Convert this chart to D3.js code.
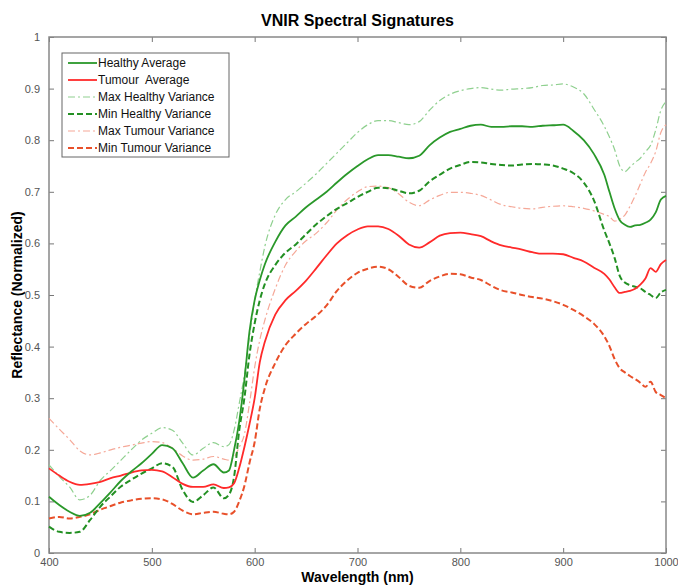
<!DOCTYPE html>
<html>
<head>
<meta charset="utf-8">
<script src="https://cdn.jsdelivr.net/npm/d3@7"></script>
<style>
  body { margin: 0; background: #fff; }
  svg { font-family: "Liberation Sans", Arial, sans-serif; }
</style>
</head>
<body>
<svg id="chart" width="678" height="585"></svg>
<script>
// wavelength grid (nm)
var wavelengths = [400,410,420,430,440,450,460,470,480,490,500,510,520,530,540,550,560,570,575,580,585,590,595,600,605,610,620,630,640,650,660,670,680,690,700,710,720,730,740,750,760,770,780,790,800,810,820,830,840,850,860,870,880,890,900,910,920,930,940,945,950,955,960,965,970,975,980,985,990,995,1000];

var healthyAvg = [.109,.093,.080,.072,.078,.097,.118,.140,.158,.174,.192,.209,.203,.174,.146,.160,.172,.156,.160,.200,.255,.335,.430,.490,.529,.560,.603,.635,.652,.670,.685,.700,.718,.735,.750,.763,.771,.771,.768,.765,.770,.790,.805,.816,.822,.828,.830,.826,.826,.827,.827,.826,.828,.829,.830,.818,.800,.773,.733,.700,.668,.645,.636,.632,.635,.636,.640,.646,.660,.685,.692];
var tumourAvg = [.164,.150,.138,.132,.134,.138,.145,.150,.156,.160,.161,.158,.147,.134,.128,.128,.133,.126,.127,.135,.165,.205,.250,.300,.370,.410,.462,.490,.508,.528,.552,.577,.600,.616,.627,.633,.633,.628,.615,.598,.592,.602,.615,.620,.621,.618,.614,.604,.596,.592,.588,.583,.580,.580,.579,.572,.565,.553,.541,.530,.515,.504,.506,.508,.512,.520,.532,.552,.545,.560,.568];
var healthyMax = [.171,.148,.128,.103,.112,.141,.160,.180,.200,.219,.232,.243,.238,.213,.190,.203,.214,.206,.210,.238,.290,.345,.420,.490,.545,.595,.655,.685,.700,.717,.735,.755,.775,.795,.815,.830,.838,.838,.834,.830,.836,.858,.877,.889,.896,.900,.902,.899,.897,.899,.900,.902,.906,.907,.909,.903,.890,.860,.827,.806,.782,.750,.739,.748,.757,.765,.778,.790,.820,.858,.875];
var healthyMin = [.051,.041,.039,.041,.064,.090,.110,.129,.142,.154,.164,.174,.167,.122,.099,.112,.127,.106,.113,.148,.238,.300,.385,.445,.490,.522,.558,.582,.598,.618,.637,.653,.667,.678,.690,.700,.708,.707,.702,.697,.702,.720,.733,.745,.752,.758,.757,.754,.752,.751,.753,.754,.753,.751,.745,.736,.718,.683,.625,.600,.572,.537,.524,.519,.516,.513,.506,.500,.494,.505,.510];
var tumourMax = [.261,.240,.220,.198,.190,.194,.200,.205,.209,.213,.216,.214,.203,.188,.180,.182,.187,.182,.180,.186,.205,.230,.290,.360,.413,.452,.512,.558,.585,.605,.620,.640,.665,.685,.700,.710,.711,.708,.696,.680,.673,.684,.693,.699,.699,.697,.693,.684,.675,.671,.668,.667,.670,.672,.673,.671,.668,.663,.656,.652,.643,.647,.655,.672,.692,.715,.738,.755,.778,.815,.830];
var tumourMin = [.067,.070,.067,.070,.075,.084,.091,.098,.102,.105,.106,.104,.095,.082,.075,.078,.080,.076,.075,.080,.100,.130,.175,.215,.280,.320,.368,.403,.425,.444,.460,.480,.508,.528,.543,.551,.555,.550,.535,.518,.514,.527,.536,.541,.540,.534,.529,.518,.509,.505,.500,.496,.493,.488,.481,.471,.459,.444,.420,.401,.376,.358,.350,.343,.337,.330,.322,.332,.312,.306,.300];

var xTicks = [400,500,600,700,800,900,1000];
var yTicks = [0,0.1,0.2,0.3,0.4,0.5,0.6,0.7,0.8,0.9,1];

var seriesNames = ['Healthy Average','Tumour  Average','Max Healthy Variance','Min Healthy Variance','Max Tumour Variance','Min Tumour Variance'];

// series styles (colour, width, dash)
var seriesStyle = [
    {color: '#2a982a', width: 1.8, dash: null},
    {color: '#ff2a2a', width: 1.8, dash: null},
    {color: '#8fd08f', width: 1.2, dash: '7,3,2,3'},
    {color: '#239023', width: 2, dash: '6,3'},
    {color: '#f5a898', width: 1.2, dash: '7,3,2,3'},
    {color: '#e8502a', width: 2, dash: '6,3'}
];
var seriesValues = [healthyAvg, tumourAvg, healthyMax, healthyMin, tumourMax, tumourMin];

var svg = d3.select('#chart');
var padding = {t: 37, r: 12, b: 32, l: 49};
var chartWidth = 678 - padding.l - padding.r;
var chartHeight = 585 - padding.t - padding.b;

var chartG = svg.append('g')
    .attr('transform', 'translate(' + [padding.l, padding.t] + ')');

var xScale = d3.scaleLinear().domain([400, 1000]).range([0, chartWidth]);
var yScale = d3.scaleLinear().domain([0, 1]).range([chartHeight, 0]);

// axes with inward ticks, like matlab
function styleAxis(g) {
    g.select('.domain').remove();
    g.selectAll('line').attr('stroke', '#777');
    g.selectAll('text').attr('fill', '#555').style('font-size', '11px');
}

chartG.append('g')
    .attr('transform', 'translate(0,' + chartHeight + ')')
    .call(d3.axisBottom(xScale).tickValues(xTicks).tickSizeInner(-5).tickSizeOuter(0).tickPadding(5).tickFormat(d3.format('d')))
    .call(styleAxis);
chartG.append('g')
    .call(d3.axisTop(xScale).tickValues(xTicks).tickSizeInner(-5).tickSizeOuter(0).tickFormat(''))
    .call(styleAxis);
chartG.append('g')
    .call(d3.axisLeft(yScale).tickValues(yTicks).tickSizeInner(-5).tickSizeOuter(0).tickPadding(9).tickFormat(function(d) { return d3.format('~g')(d); }))
    .call(styleAxis);
chartG.append('g')
    .attr('transform', 'translate(' + chartWidth + ',0)')
    .call(d3.axisRight(yScale).tickValues(yTicks).tickSizeInner(-5).tickSizeOuter(0).tickFormat(''))
    .call(styleAxis);

chartG.append('rect')
    .attr('width', chartWidth)
    .attr('height', chartHeight)
    .attr('fill', 'none')
    .attr('stroke', '#888')
    .attr('stroke-width', 1.5);

var line = d3.line()
    .x(function(d) { return xScale(d[0]); })
    .y(function(d) { return yScale(d[1]); })
    .curve(d3.curveMonotoneX);

// draw back to front so the averages sit on top
var drawOrder = [2, 4, 5, 3, 1, 0];
drawOrder.forEach(function(i) {
    var pts = wavelengths.map(function(w, j) { return [w, seriesValues[i][j]]; });
    chartG.append('path')
        .datum(pts)
        .attr('fill', 'none')
        .attr('stroke', seriesStyle[i].color)
        .attr('stroke-width', seriesStyle[i].width)
        .attr('stroke-dasharray', seriesStyle[i].dash)
        .attr('d', line);
});

// legend
var legend = chartG.append('g').attr('transform', 'translate(13,16)');
legend.append('rect')
    .attr('width', 167)
    .attr('height', 104)
    .attr('fill', '#fff')
    .attr('stroke', '#666');
seriesNames.forEach(function(name, i) {
    var y = 10 + i * 17;
    legend.append('line')
        .attr('x1', 6).attr('x2', 35)
        .attr('y1', y).attr('y2', y)
        .attr('stroke', seriesStyle[i].color)
        .attr('stroke-width', seriesStyle[i].width)
        .attr('stroke-dasharray', seriesStyle[i].dash);
    legend.append('text')
        .attr('x', 36)
        .attr('y', y)
        .attr('dy', '.35em')
        .style('font-size', '12px')
        .style('white-space', 'pre')
        .attr('fill', '#111')
        .text(name);
});

svg.append('text')
    .attr('x', padding.l + chartWidth / 2)
    .attr('y', 26)
    .attr('text-anchor', 'middle')
    .style('font-size', '16px')
    .style('font-weight', 'bold')
    .text('VNIR Spectral Signatures');

svg.append('text')
    .attr('x', padding.l + chartWidth / 2)
    .attr('y', 582)
    .attr('text-anchor', 'middle')
    .style('font-size', '14px')
    .style('font-weight', 'bold')
    .text('Wavelength (nm)');

svg.append('text')
    .attr('transform', 'translate(22,' + (padding.t + chartHeight / 2) + ') rotate(-90)')
    .attr('text-anchor', 'middle')
    .style('font-size', '14px')
    .style('font-weight', 'bold')
    .text('Reflectance (Normalized)');
</script>
</body>
</html>
